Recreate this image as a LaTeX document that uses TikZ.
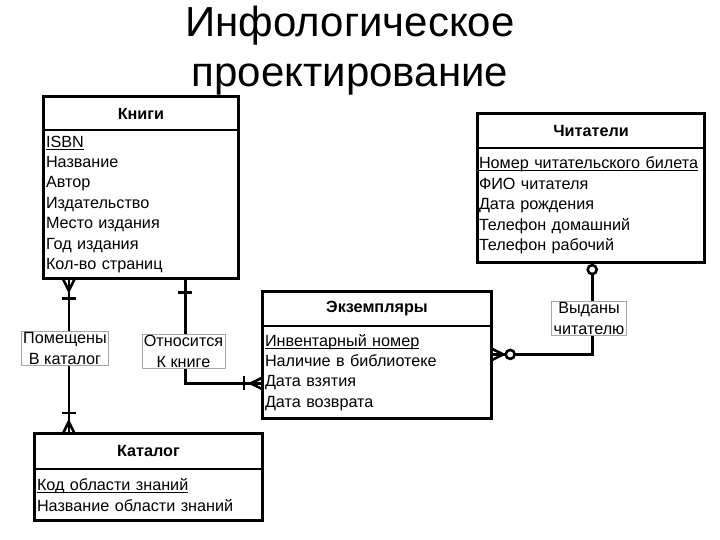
\documentclass[tikz,border=0pt]{standalone}
\usepackage{fontspec}
\setmainfont{Liberation Sans}
\usetikzlibrary{calc}
\newcommand\keyattr[1]{\setbox0\hbox{#1}\rlap{\rule[-2.4pt]{\wd0}{0.9pt}}#1}
\def\crowfoot(#1:#2){\draw[link] ($(#1)+(#2+90:6)$) -- ($(#1)+(#2:12)$) -- ($(#1)+(#2-90:6)$);}
\def\onebar(#1:#2:#3){\draw[link] ($(#1)+(#2:#3)+(#2+90:7)$) -- ($(#1)+(#2:#3)+(#2-90:7)$);}
\def\zerocirc(#1:#2:#3){\draw[link,fill=white] ($(#1)+(#2:#3)$) circle (4.5pt);}
\tikzset{
  link/.style={line width=2.6pt},
  entframe/.style={line width=3pt},
  entsplit/.style={line width=2pt},
  enthead/.style={font=\bfseries\fontsize{16.2}{20.4}\selectfont, inner sep=0pt},
  entbody/.style={font=\fontsize{16.2}{20.4}\selectfont, align=left, inner xsep=2pt, inner ysep=0pt, anchor=north},
  rel/.style={fill=white, draw=black!35, line width=0.6pt, align=center, font=\fontsize{16.2}{20.4}\selectfont, inner xsep=2pt, inner ysep=1pt}
}
\begin{document}
\begin{tikzpicture}[x=1pt,y=-1pt]
			%%%%% FRAME %%%%%
			\useasboundingbox (0,0) rectangle (720,540);
			
			\node[font=\fontsize{42}{50}\selectfont, align=center, anchor=base] (title) at (350,87) {Инфологическое\\проектирование};
			
			%%%%% ENTITIES %%%%%
			\node[enthead, minimum width=194pt, minimum height=33pt] (kn) at (141,113.5) {Книги};
			\node[entbody, text width=190pt, minimum height=148pt] (kn-b) at (kn.south) {\keyattr{ISBN}\\Название\\Автор\\Издательство\\Место издания\\Год издания\\Кол-во страниц};
			
			\node[enthead, minimum width=226pt, minimum height=34pt] (chi) at (591,131) {Читатели};
			\node[entbody, text width=224pt, inner xsep=1pt, minimum height=114pt] (chi-b) at (chi.south) {\keyattr{Номер читательского билета}\\ФИО читателя\\Дата рождения\\Телефон домашний\\Телефон рабочий};
			
			\node[enthead, minimum width=228pt, minimum height=34pt] (ekz) at (377,309) {Экземпляры};
			\node[entbody, text width=224pt, minimum height=92pt] (ekz-b) at (ekz.south) {\keyattr{Инвентарный номер}\\Наличие в библиотеке\\Дата взятия\\Дата возврата};
			
			\node[enthead, minimum width=227pt, minimum height=35pt] (kat) at (148.5,451.5) {Каталог};
			\node[entbody, text width=223pt, minimum height=51pt] (kat-b) at (kat.south) {\keyattr{Код области знаний}\\Название области знаний};
			
			%%%%% LINKS %%%%%
			\coordinate (p1) at ([xshift=25pt]kn-b.south west);
			\coordinate (p2) at (p1 |- kat.north);
			\draw[link] (p1) -- (p2);
			\crowfoot(p1:90)
			\onebar(p1:90:20)
			\crowfoot(p2:-90)
			\onebar(p2:-90:21)
			
			\coordinate (p3) at ([xshift=-53pt]kn-b.south east);
			\coordinate (p4) at ([yshift=-11pt]ekz-b.west);
			\draw[link] (p3) |- (p4);
			\onebar(p3:90:14)
			\crowfoot(p4:180)
			\onebar(p4:180:19)
			
			\coordinate (p5) at ([xshift=-112pt]chi-b.south east);
			\coordinate (p6) at ([yshift=18pt]ekz-b.east);
			\draw[link] (p5) |- (p6);
			\crowfoot(p6:0)
			\zerocirc(p5:90:7)
			\zerocirc(p6:0:19)
			
			\foreach \e in {kn,chi,ekz,kat}{
				\draw[entframe] (\e.north west) rectangle (\e-b.south east);
				\draw[entsplit] (\e.south west) -- (\e.south east);
			}
			
			%%%%% RELATIONS %%%%%
			\node[rel] (pomesh) at (65,348.5) {Помещены\\В каталог};
			\node[rel] (otnos) at (183.5,351.5) {Относится\\К книге};
			\node[rel] (vydan) at (589,318.5) {Выданы\\читателю};
			
		\end{tikzpicture}
\end{document}
